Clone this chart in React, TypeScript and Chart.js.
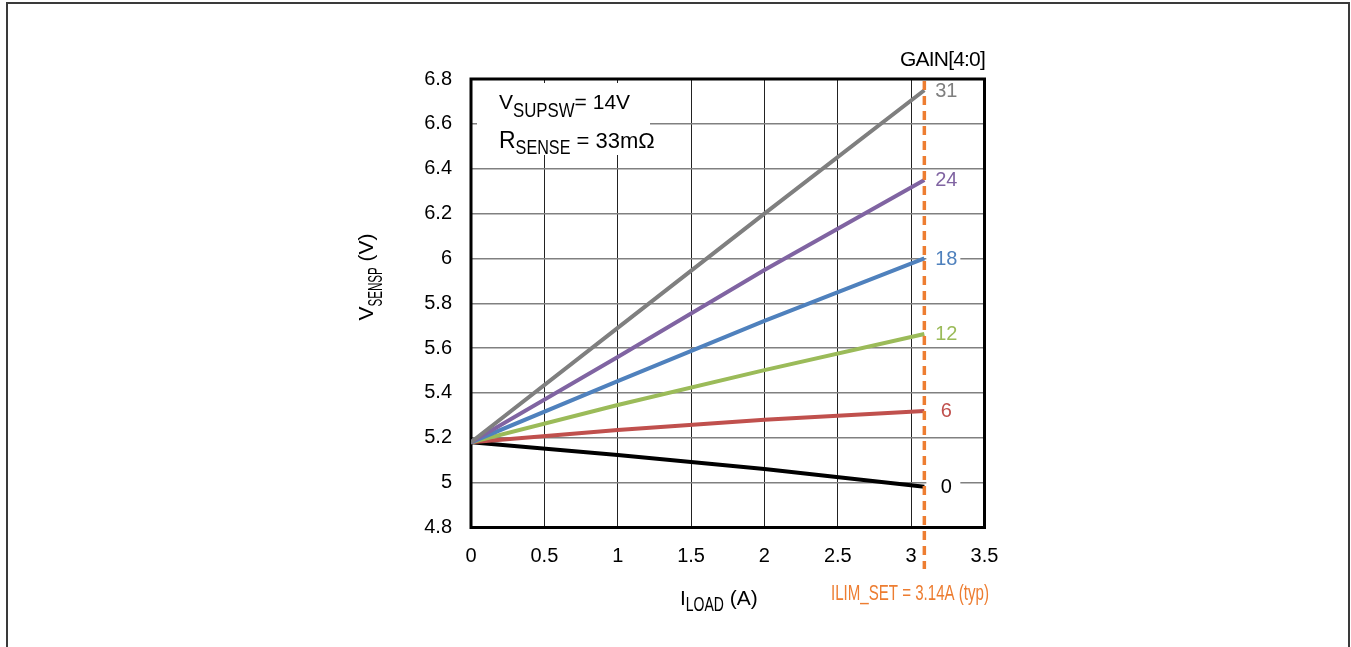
import React, { useEffect, useRef } from "react";
import { Chart, registerables } from "chart.js";

Chart.register(...registerables);

// ---- data ----
const loadCurrent = [0, 1, 2, 3.09];
const gain31 = [5.18, 5.69, 6.2, 6.75];
const gain24 = [5.18, 5.56, 5.948, 6.35];
const gain18 = [5.18, 5.453, 5.721, 6.0];
const gain12 = [5.18, 5.346, 5.502, 5.663];
const gain6 = [5.18, 5.235, 5.28, 5.32];
const gain0 = [5.18, 5.123, 5.061, 4.982];

const gainLabels = ["31", "24", "18", "12", "6", "0"];
const gainSeries = [gain31, gain24, gain18, gain12, gain6, gain0];
const gainColors = ["#7F7F7F", "#8064A2", "#4F81BD", "#9BBB59", "#C0504D", "#000000"];

const xTicks = [0, 0.5, 1, 1.5, 2, 2.5, 3, 3.5];
const xTickLabels = ["0", "0.5", "1", "1.5", "2", "2.5", "3", "3.5"];
const yTicks = [4.8, 5, 5.2, 5.4, 5.6, 5.8, 6, 6.2, 6.4, 6.6, 6.8];
const yTickLabels = ["4.8", "5", "5.2", "5.4", "5.6", "5.8", "6", "6.2", "6.4", "6.6", "6.8"];

const ilimLineX = 3.09;
const ilimText = "ILIM_SET = 3.14A (typ)";
const gainTitle = "GAIN[4:0]";

const FONT = "'Liberation Sans', Arial, sans-serif";
const ORANGE = "#ED7D31";

type Part = { t: string; size: number; sx?: number; dy?: number; ls?: number };

function richWidth(ctx: CanvasRenderingContext2D, parts: Part[]) {
  let w = 0;
  for (const p of parts) {
    ctx.font = `${p.size}px ${FONT}`;
    w += ctx.measureText(p.t).width * (p.sx ?? 1);
  }
  return w;
}

function drawRich(ctx: CanvasRenderingContext2D, parts: Part[], x: number, y: number, color: string) {
  ctx.fillStyle = color;
  ctx.textBaseline = "alphabetic";
  ctx.textAlign = "left";
  let cx = x;
  for (const p of parts) {
    ctx.font = `${p.size}px ${FONT}`;
    const m = ctx.measureText(p.t).width;
    const sx = p.sx ?? 1;
    ctx.save();
    ctx.translate(cx, y + (p.dy ?? 0));
    ctx.scale(sx, 1);
    ctx.fillText(p.t, 0, 0);
    ctx.restore();
    cx += m * sx;
  }
}

const decorPlugin = {
  id: "decor",
  beforeDraw(chart: any) {
    const ctx: CanvasRenderingContext2D = chart.ctx;
    ctx.save();
    ctx.fillStyle = "#ffffff";
    ctx.fillRect(0, 0, chart.width, chart.height);
    ctx.fillStyle = "#3a3a3a";
    ctx.fillRect(6, 2, 1344, 2);
    ctx.fillRect(6, 2, 2, 645);
    ctx.fillRect(1348, 2, 2, 645);
    ctx.restore();
  },
  beforeDatasetsDraw(chart: any) {
    const ctx: CanvasRenderingContext2D = chart.ctx;
    const a = chart.chartArea;
    const xs = chart.scales.x;
    const ys = chart.scales.y;
    ctx.save();
    ctx.fillStyle = "#ffffff";
    ctx.fillRect(477, 83, 173, 72);
    const lx = xs.getPixelForValue(ilimLineX);
    gainSeries.forEach((s) => {
      const py = ys.getPixelForValue(s[s.length - 1]);
      ctx.fillRect(lx + 2, py - 10, 34, 20);
    });
    ctx.strokeStyle = "#000";
    ctx.lineWidth = 3;
    ctx.strokeRect(a.left, a.top, a.right - a.left, a.bottom - a.top);
    ctx.restore();
  },
  afterDatasetsDraw(chart: any) {
    const ctx: CanvasRenderingContext2D = chart.ctx;
    const a = chart.chartArea;
    const xs = chart.scales.x;
    const ys = chart.scales.y;
    const lx = xs.getPixelForValue(ilimLineX);
    ctx.save();
    ctx.strokeStyle = ORANGE;
    ctx.lineWidth = 3.5;
    ctx.setLineDash([9, 6]);
    ctx.beginPath();
    ctx.moveTo(lx, a.top + 2);
    ctx.lineTo(lx, 569);
    ctx.stroke();
    ctx.setLineDash([]);

    ctx.font = `20px ${FONT}`;
    ctx.textAlign = "center";
    ctx.textBaseline = "middle";
    gainSeries.forEach((s, i) => {
      const py = ys.getPixelForValue(s[s.length - 1]);
      ctx.fillStyle = gainColors[i];
      ctx.fillText(gainLabels[i], lx + 22, py + 1);
    });

    ctx.fillStyle = "#000";
    ctx.textAlign = "left";
    ctx.textBaseline = "alphabetic";
    ctx.font = `21px ${FONT}`;
    (ctx as any).letterSpacing = "-0.8px";
    ctx.fillText(gainTitle, 900, 66);
    (ctx as any).letterSpacing = "0px";

    ctx.save();
    ctx.font = `22px ${FONT}`;
    ctx.fillStyle = ORANGE;
    const w = ctx.measureText(ilimText).width;
    const sx = 158 / w;
    ctx.translate(831, 600);
    ctx.scale(sx, 1);
    ctx.fillText(ilimText, 0, 0);
    ctx.restore();

    drawRich(
      ctx,
      [
        { t: "V", size: 21 },
        { t: "SUPSW", size: 21, sx: 0.8, dy: 8 },
        { t: "= 14V", size: 21 },
      ],
      499,
      109,
      "#000"
    );
    drawRich(
      ctx,
      [
        { t: "R", size: 23 },
        { t: "SENSE", size: 21, sx: 0.77, dy: 6 },
        { t: " = 33mΩ", size: 22 },
      ],
      499,
      148,
      "#000"
    );

    drawRich(
      ctx,
      [
        { t: "I", size: 21 },
        { t: "LOAD", size: 20, sx: 0.7, dy: 6 },
        { t: " (A)", size: 21 },
      ],
      680,
      605,
      "#000"
    );

    const yParts: Part[] = [
      { t: "V", size: 21 },
      { t: "SENSP", size: 20, sx: 0.58, dy: 9 },
      { t: " (V)", size: 21 },
    ];
    const yw = richWidth(ctx, yParts);
    ctx.save();
    ctx.translate(373, 277);
    ctx.rotate(-Math.PI / 2);
    drawRich(ctx, yParts, -yw / 2, 0, "#000");
    ctx.restore();

    ctx.restore();
  },
};

export default function App() {
  const ref = useRef<HTMLCanvasElement | null>(null);

  useEffect(() => {
    if (!ref.current) return;
    const datasets = gainSeries.map((s, i) => ({
      label: gainLabels[i],
      data: s.map((v, j) => ({ x: loadCurrent[j], y: v })),
      borderColor: gainColors[i],
      backgroundColor: gainColors[i],
      borderWidth: 4,
      pointRadius: 0,
      tension: 0,
      fill: false,
    }));
    const chart = new Chart(ref.current, {
      type: "line",
      data: { datasets },
      options: {
        animation: false,
        responsive: false,
        layout: { padding: { left: 0, top: 79, right: 366.5, bottom: 0 } },
        plugins: { legend: { display: false }, tooltip: { enabled: false } },
        scales: {
          x: {
            type: "linear",
            min: 0,
            max: 3.5,
            afterBuildTicks: (scale: any) => {
              scale.ticks = xTicks.map((v) => ({ value: v }));
            },
            afterFit: (scale: any) => {
              scale.height = 119.5;
            },
            ticks: {
              callback: (v: any) => xTickLabels[xTicks.indexOf(Number(v))] ?? "",
              color: "#000",
              font: { family: FONT, size: 20 },
              padding: 17,
              maxRotation: 0,
              autoSkip: false,
            },
            grid: { color: "#222", lineWidth: 1, drawTicks: false },
            border: { display: false },
          },
          y: {
            type: "linear",
            min: 4.8,
            max: 6.8,
            afterBuildTicks: (scale: any) => {
              scale.ticks = yTicks.map((v) => ({ value: v }));
            },
            afterFit: (scale: any) => {
              scale.width = 471;
            },
            ticks: {
              callback: (v: any) => {
                const idx = yTicks.findIndex((t) => Math.abs(t - Number(v)) < 1e-6);
                return idx >= 0 ? yTickLabels[idx] : "";
              },
              color: "#000",
              font: { family: FONT, size: 20 },
              padding: 19,
              autoSkip: false,
            },
            grid: { color: "#808080", lineWidth: 1.5, drawTicks: false },
            border: { display: false },
          },
        },
      },
      plugins: [decorPlugin],
    });
    return () => chart.destroy();
  }, []);

  return (
    <div style={{ position: "fixed", left: 0, top: 0, width: 1351, height: 647, background: "#fff" }}>
      <canvas ref={ref} width={1351} height={647} style={{ display: "block", width: 1351, height: 647 }} />
    </div>
  );
}
